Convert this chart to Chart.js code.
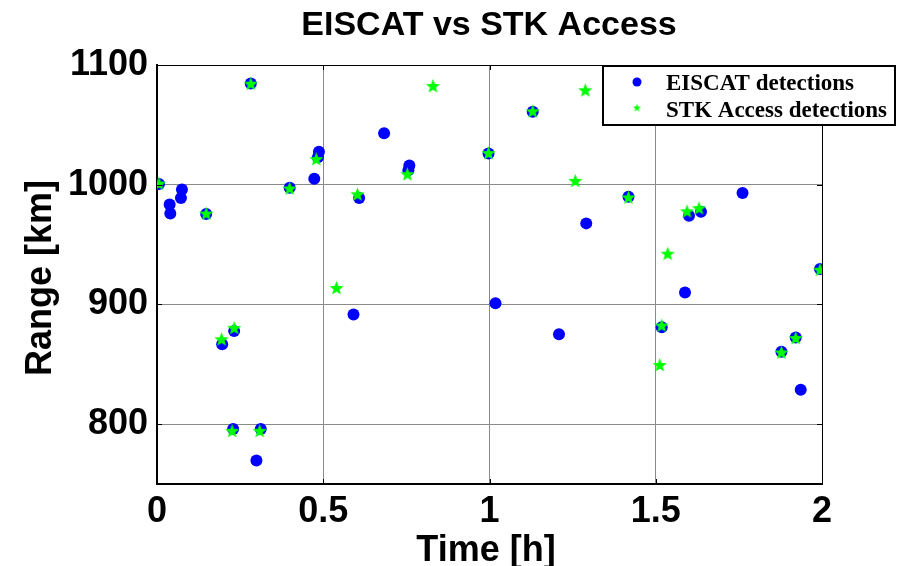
<!DOCTYPE html>
<html>
<head>
<meta charset="utf-8">
<script src="https://cdn.jsdelivr.net/npm/chart.js@4/dist/chart.umd.min.js"></script>
<style>
  html, body { margin: 0; padding: 0; background: #fff; }
  canvas { display: block; }
</style>
</head>
<body>
<canvas id="chart" width="899" height="566"></canvas>
<script>
// EISCAT detections: time [h] and range [km]
const eiscatTime = [0.006, 0.038, 0.040, 0.075, 0.072, 0.148, 0.196, 0.229, 0.232, 0.282, 0.299, 0.312,
  0.399, 0.473, 0.484, 0.487, 0.591, 0.608, 0.683, 0.756, 0.759, 0.997, 1.018, 1.130, 1.209, 1.291,
  1.418, 1.518, 1.588, 1.600, 1.636, 1.761, 1.878, 1.921, 1.936, 1.994];
const eiscatRange = [1000.5, 983.5, 976, 996, 989, 975.5, 866.8, 796, 877.7, 1084.6, 769.7, 796,
  997.5, 1005, 1023, 1027.5, 891.6, 989, 1043, 1012, 1016, 1026, 901, 1061, 875, 967.7,
  990, 881, 910, 974, 977.4, 993, 860.5, 872.4, 828.7, 929.5];

// STK Access detections
const stkTime = [0.006, 0.148, 0.194, 0.226, 0.232, 0.282, 0.309, 0.399, 0.479, 0.540, 0.603, 0.753,
  0.830, 0.997, 1.130, 1.258, 1.288, 1.418, 1.512, 1.518, 1.536, 1.594, 1.630, 1.878, 1.921, 1.994];
const stkRange = [1000.5, 975.5, 870.5, 794, 880, 1084, 794, 996.5, 1021, 913.4, 991.6, 1008.4,
  1082, 1026, 1061, 1002.8, 1078.5, 989, 849, 882, 942, 977.4, 980, 859.5, 871.5, 928.5];

const xTicks = [0, 0.5, 1, 1.5, 2];
const yTicks = [800, 900, 1000, 1100];

const sans = '"Liberation Sans", Arial, sans-serif';
const serif = '"Liberation Serif", "Times New Roman", serif';

function makeStar(r, color) {
  const size = Math.ceil(r * 2 + 2);
  const c = document.createElement('canvas');
  c.width = size; c.height = size;
  const g = c.getContext('2d');
  g.fillStyle = color;
  g.beginPath();
  for (let i = 0; i < 10; i++) {
    const rad = i % 2 === 0 ? r : r * 0.42;
    const a = -Math.PI / 2 + i * Math.PI / 5;
    const px = size / 2 + rad * Math.cos(a);
    const py = size / 2 + rad * Math.sin(a);
    if (i === 0) g.moveTo(px, py); else g.lineTo(px, py);
  }
  g.closePath();
  g.fill();
  return c;
}

const starBig = makeStar(7.5, '#00ff00');
const starSmall = makeStar(4.2, '#00ff00');

const decor = {
  id: 'decor',
  afterDraw(chart) {
    const ctx = chart.ctx;
    const a = chart.chartArea;
    const xs = chart.scales.x, ys = chart.scales.y;
    ctx.save();
    // box top and right
    ctx.strokeStyle = '#000';
    ctx.lineWidth = 1;
    ctx.beginPath();
    ctx.moveTo(a.left, a.top + 0.5); ctx.lineTo(a.right, a.top + 0.5);
    ctx.moveTo(a.right + 0.5, a.top); ctx.lineTo(a.right + 0.5, a.bottom);
    ctx.stroke();
    // inward tick marks
    ctx.beginPath();
    xTicks.forEach(v => {
      const px = Math.round(xs.getPixelForValue(v)) + 0.5;
      ctx.moveTo(px, a.bottom); ctx.lineTo(px, a.bottom - 5);
      ctx.moveTo(px, a.top); ctx.lineTo(px, a.top + 5);
    });
    yTicks.forEach(v => {
      const py = Math.round(ys.getPixelForValue(v)) + 0.5;
      ctx.moveTo(a.left, py); ctx.lineTo(a.left + 5, py);
      ctx.moveTo(a.right, py); ctx.lineTo(a.right - 5, py);
    });
    ctx.stroke();

    // title and axis titles
    ctx.fillStyle = '#000';
    ctx.textAlign = 'center';
    ctx.textBaseline = 'alphabetic';
    ctx.font = 'bold 34px ' + sans;
    ctx.fillText('EISCAT vs STK Access', 489, 35);
    ctx.font = 'bold 36px ' + sans;
    ctx.fillText('Time [h]', 486, 561);
    ctx.save();
    ctx.translate(51, 278);
    ctx.rotate(-Math.PI / 2);
    ctx.fillText('Range [km]', 0, 0);
    ctx.restore();

    // legend box
    const lx = 603, ly = 66, lw = 292, lh = 59;
    ctx.fillStyle = '#fff';
    ctx.fillRect(lx, ly, lw, lh);
    ctx.lineWidth = 2;
    ctx.strokeStyle = '#000';
    ctx.strokeRect(lx, ly, lw, lh);
    ctx.fillStyle = '#0000ff';
    ctx.beginPath();
    ctx.arc(637, 82, 4.5, 0, Math.PI * 2);
    ctx.fill();
    ctx.drawImage(starSmall, 637 - starSmall.width / 2, 108 - starSmall.height / 2);
    ctx.fillStyle = '#000';
    ctx.textAlign = 'left';
    ctx.font = 'bold 23px ' + serif;
    ctx.fillText('EISCAT detections', 666, 90);
    ctx.fillText('STK Access detections', 666, 117);
    ctx.restore();
  }
};

new Chart(document.getElementById('chart'), {
  type: 'scatter',
  data: {
    datasets: [
      {
        label: 'EISCAT detections',
        data: eiscatTime.map((t, i) => ({ x: t, y: eiscatRange[i] })),
        pointStyle: 'circle',
        pointRadius: 6,
        backgroundColor: '#0000ff',
        borderColor: '#0000ff',
        borderWidth: 0,
        order: 2
      },
      {
        label: 'STK Access detections',
        data: stkTime.map((t, i) => ({ x: t, y: stkRange[i] })),
        pointStyle: starBig,
        backgroundColor: '#00ff00',
        borderColor: '#00ff00',
        order: 1
      }
    ]
  },
  options: {
    responsive: false,
    animation: false,
    devicePixelRatio: 1,
    layout: { padding: { top: 65, right: 77, left: 0, bottom: 0 } },
    plugins: {
      legend: { display: false },
      tooltip: { enabled: false },
      title: { display: false }
    },
    scales: {
      x: {
        type: 'linear',
        min: 0,
        max: 2,
        afterBuildTicks: s => { s.ticks = xTicks.map(v => ({ value: v })); },
        afterFit: s => { s.height = 82; },
        ticks: {
          color: '#000',
          font: { family: sans, size: 36, weight: 'bold' },
          padding: 6,
          maxRotation: 0,
          callback: v => String(v)
        },
        grid: { color: '#8a8a8a', lineWidth: 1, drawTicks: false },
        border: { color: '#000', width: 2 }
      },
      y: {
        type: 'linear',
        min: 750,
        max: 1100,
        afterBuildTicks: s => { s.ticks = yTicks.map(v => ({ value: v })); },
        afterFit: s => { s.width = 157; },
        ticks: {
          color: '#000',
          font: { family: sans, size: 36, weight: 'bold' },
          padding: 9,
          callback: v => String(v)
        },
        grid: { color: '#8a8a8a', lineWidth: 1, drawTicks: false },
        border: { color: '#000', width: 2 }
      }
    }
  },
  plugins: [decor]
});
</script>
</body>
</html>
